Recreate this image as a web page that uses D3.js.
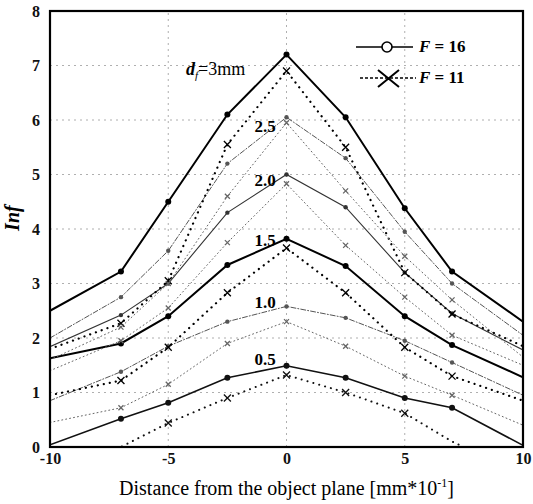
<!DOCTYPE html>
<html>
<head>
<meta charset="utf-8">
<script src="https://cdn.jsdelivr.net/npm/d3@7"></script>
<style>
  html, body { margin: 0; padding: 0; background: #fff; }
  svg { display: block; }
</style>
</head>
<body>
<div id="chart"></div>
<script>
// distance from the object plane, mm*10^-1
const positions = [-10, -7, -5, -2.5, 0, 2.5, 5, 7, 10];

// F = 16 (solid lines, dot markers)
const f16_d30 = [2.5, 3.22, 4.5, 6.1, 7.2, 6.05, 4.38, 3.22, 2.3];
const f16_d25 = [2.0, 2.75, 3.6, 5.2, 6.05, 5.3, 3.95, 3.0, 2.05];
const f16_d20 = [1.84, 2.42, 3.0, 4.3, 5.0, 4.4, 3.2, 2.45, 1.78];
const f16_d15 = [1.63, 1.9, 2.4, 3.34, 3.82, 3.32, 2.4, 1.87, 1.28];
const f16_d10 = [0.85, 1.38, 1.85, 2.3, 2.58, 2.37, 1.95, 1.55, 0.95];
const f16_d05 = [0.04, 0.52, 0.81, 1.27, 1.49, 1.27, 0.9, 0.72, 0.03];

// F = 11 (dotted lines, cross markers)
const f11_d30 = [1.8, 2.27, 3.05, 5.55, 6.9, 5.5, 3.2, 2.44, 1.85];
const f11_d25 = [1.6, 2.2, 3.0, 4.6, 5.95, 4.7, 3.5, 2.7, 1.65];
const f11_d20 = [1.4, 1.95, 2.55, 3.75, 4.83, 3.7, 2.75, 2.05, 1.5];
const f11_d15 = [0.95, 1.22, 1.83, 2.83, 3.65, 2.83, 1.83, 1.3, 0.85];
const f11_d10 = [0.45, 0.72, 1.15, 1.9, 2.3, 1.85, 1.3, 0.95, 0.4];
const f11_d05 = [-0.6, 0.0, 0.44, 0.9, 1.32, 1.0, 0.62, 0.1, -0.5];

const yTicks = [0, 1, 2, 3, 4, 5, 6, 7, 8];
const xTicks = [-10, -5, 0, 5, 10];
const curveLabels = ["2.5", "2.0", "1.5", "1.0", "0.5"];
const curveLabelAt = [5.78, 4.78, 3.68, 2.55, 1.5];

const width = 533, height = 504;
const margin = { top: 11, right: 10, bottom: 57, left: 50 };
const serif = "Liberation Serif, Times New Roman, DejaVu Serif, serif";

const svg = d3.select("#chart").append("svg").attr("width", width).attr("height", height);

const x = d3.scaleLinear().domain([-10, 10]).range([margin.left, width - margin.right]);
const y = d3.scaleLinear().domain([0, 8]).range([height - margin.bottom, margin.top]);

svg.append("defs").append("clipPath").attr("id", "plotClip")
  .append("rect")
  .attr("x", margin.left).attr("y", margin.top)
  .attr("width", x(10) - x(-10)).attr("height", y(0) - y(8));

// faint dotted grid
const grid = svg.append("g").attr("stroke", "#9a9a9a").attr("stroke-width", 0.8).attr("stroke-dasharray", "2 4");
grid.selectAll("line.h").data(yTicks.slice(1, -1)).join("line")
  .attr("x1", x(-10)).attr("x2", x(10)).attr("y1", d => y(d)).attr("y2", d => y(d));
grid.selectAll("line.v").data(xTicks.slice(1, -1)).join("line")
  .attr("y1", y(0)).attr("y2", y(8)).attr("x1", d => x(d)).attr("x2", d => x(d));

const seriesList = [
  { values: f16_d30, F: 16, w: 2, color: "#000", dash: null },
  { values: f16_d25, F: 16, w: 1, color: "#555", dash: "5 2 1 2" },
  { values: f16_d20, F: 16, w: 1.1, color: "#333", dash: null },
  { values: f16_d15, F: 16, w: 2, color: "#000", dash: null },
  { values: f16_d10, F: 16, w: 1, color: "#555", dash: "5 2 1 2" },
  { values: f16_d05, F: 16, w: 1.6, color: "#111", dash: null },
  { values: f11_d30, F: 11, w: 2.2, color: "#000", dash: "0.1 6" },
  { values: f11_d25, F: 11, w: 1, color: "#666", dash: "1 3" },
  { values: f11_d20, F: 11, w: 1, color: "#666", dash: "1 3" },
  { values: f11_d15, F: 11, w: 2.2, color: "#000", dash: "0.1 6" },
  { values: f11_d10, F: 11, w: 1, color: "#666", dash: "1 3" },
  { values: f11_d05, F: 11, w: 2, color: "#111", dash: "0.1 6" },
];

const line = d3.line().x((d, i) => x(positions[i])).y(d => y(d));
const plot = svg.append("g").attr("clip-path", "url(#plotClip)");

seriesList.forEach(s => {
  plot.append("path").datum(s.values)
    .attr("d", line)
    .attr("fill", "none")
    .attr("stroke", s.color)
    .attr("stroke-width", s.w)
    .attr("stroke-linecap", "round")
    .attr("stroke-dasharray", s.dash);
});

seriesList.forEach(s => {
  const pts = s.values.map((v, i) => [positions[i], v]).filter(p => p[1] >= 0.2 && p[0] > -10 && p[0] < 10);
  if (s.F === 16) {
    plot.append("g").selectAll("circle").data(pts).join("circle")
      .attr("cx", p => x(p[0])).attr("cy", p => y(p[1]))
      .attr("r", s.w > 1.5 ? 3 : 2.2)
      .attr("fill", s.color);
  } else {
    const k = s.w > 1.5 ? 3.5 : 2.5;
    plot.append("g").selectAll("path").data(pts).join("path")
      .attr("d", p => `M${x(p[0]) - k},${y(p[1]) - k}L${x(p[0]) + k},${y(p[1]) + k}M${x(p[0]) - k},${y(p[1]) + k}L${x(p[0]) + k},${y(p[1]) - k}`)
      .attr("stroke", s.color).attr("stroke-width", 1.3).attr("fill", "none");
  }
});

// axes
const yAxis = svg.append("g").attr("transform", `translate(${margin.left},0)`)
  .call(d3.axisLeft(y).tickValues(yTicks).tickSize(0).tickPadding(10).tickFormat(d3.format("d")));
const xAxis = svg.append("g").attr("transform", `translate(0,${y(0)})`)
  .call(d3.axisBottom(x).tickValues(xTicks).tickSize(0).tickPadding(6).tickFormat(d => d < 0 ? "-" + Math.abs(d) : d));
[yAxis, xAxis].forEach(a => {
  a.select(".domain").remove();
  a.attr("font-family", serif).attr("font-size", 16).attr("font-weight", "bold");
  a.selectAll(".tick text").attr("fill", "#111");
});

// frame
svg.append("rect")
  .attr("x", x(-10)).attr("y", y(8))
  .attr("width", x(10) - x(-10)).attr("height", y(0) - y(8))
  .attr("fill", "none").attr("stroke", "#000").attr("stroke-width", 2.2);

// curve labels
const dl = svg.append("text").attr("x", 186).attr("y", y(6.82))
  .attr("font-family", serif).attr("font-size", 18).attr("fill", "#000");
dl.append("tspan").attr("font-style", "italic").attr("font-weight", "bold").text("d");
dl.append("tspan").attr("font-style", "italic").attr("font-size", 11).attr("dy", 4).text("f");
dl.append("tspan").attr("dy", -4).text("=3mm");

svg.append("g").selectAll("text").data(curveLabels).join("text")
  .attr("x", x(-0.45)).attr("y", (d, i) => y(curveLabelAt[i]))
  .attr("text-anchor", "end")
  .attr("font-family", serif).attr("font-size", 17).attr("font-weight", "bold")
  .text(d => d);

// legend
const legend = svg.append("g");
const lgY1 = 47, lgY2 = 78;
legend.append("line").attr("x1", 356).attr("x2", 413).attr("y1", lgY1).attr("y2", lgY1).attr("stroke", "#000").attr("stroke-width", 1.6);
legend.append("circle").attr("cx", 387).attr("cy", lgY1).attr("r", 5).attr("fill", "#fff").attr("stroke", "#000").attr("stroke-width", 1.6);
legend.append("line").attr("x1", 360).attr("x2", 416).attr("y1", lgY2).attr("y2", lgY2).attr("stroke", "#000").attr("stroke-width", 1.6).attr("stroke-dasharray", "3 2");
legend.append("path").attr("d", `M378,${lgY2 - 8}L399,${lgY2 + 9}M378,${lgY2 + 9}L399,${lgY2 - 8}`).attr("stroke", "#000").attr("stroke-width", 2).attr("fill", "none");
[["16", lgY1], ["11", lgY2]].forEach(([v, yy]) => {
  const t = legend.append("text").attr("x", 419).attr("y", yy + 5).attr("font-family", serif).attr("font-size", 17).attr("font-weight", "bold");
  t.append("tspan").attr("font-style", "italic").text("F");
  t.append("tspan").text(" = " + v);
});

// axis titles
const xt = svg.append("text").attr("x", x(0)).attr("y", 495).attr("text-anchor", "middle")
  .attr("font-family", serif).attr("font-size", 20).text("Distance from the object plane [mm*10");
xt.append("tspan").attr("font-size", 12).attr("dy", -8).text("-1");
xt.append("tspan").attr("dy", 8).text("]");

svg.append("text").attr("transform", `translate(19,${y(4.2)}) rotate(-90)`).attr("text-anchor", "middle")
  .attr("font-family", serif).attr("font-size", 20).attr("font-style", "italic").attr("font-weight", "bold").text("Inf");
</script>
</body>
</html>
